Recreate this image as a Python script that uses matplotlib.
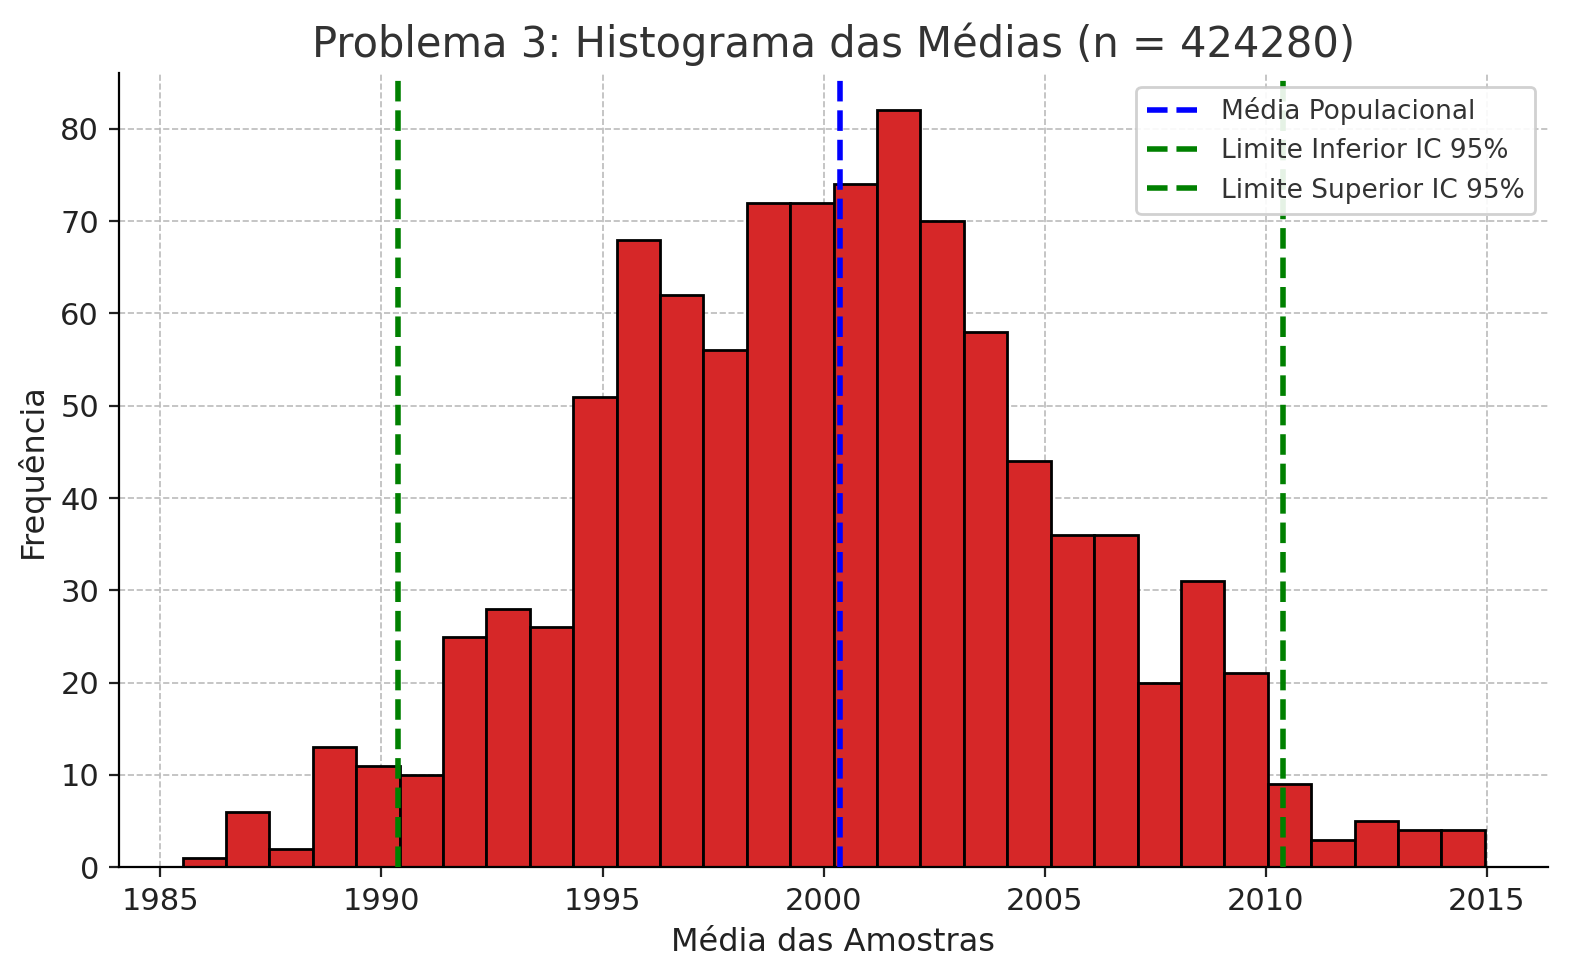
import matplotlib
matplotlib.use("Agg")
import matplotlib.pyplot as plt
import numpy as np

bin_start = 1985.5
bin_width = 0.982
counts = [1, 6, 2, 13, 11, 10, 25, 28, 26, 51, 68, 62, 56, 72, 72, 74, 82, 70, 58, 44,
          36, 36, 20, 31, 21, 9, 3, 5, 4, 4]
pop_mean = 2000.38
ci_low = 1990.38
ci_high = 2010.4
xticks = [1985, 1990, 1995, 2000, 2005, 2010, 2015]

fig, ax = plt.subplots(figsize=(7.9, 4.9), dpi=200)
edges = bin_start + bin_width * np.arange(len(counts))
ax.bar(edges, counts, width=bin_width, align="edge", color="#d62728",
       edgecolor="black", linewidth=1.0, zorder=2)
ax.axvline(pop_mean, color="blue", linestyle="--", linewidth=2, label="Média Populacional", zorder=3)
ax.axvline(ci_low, color="green", linestyle="--", linewidth=2, label="Limite Inferior IC 95%", zorder=3)
ax.axvline(ci_high, color="green", linestyle="--", linewidth=2, label="Limite Superior IC 95%", zorder=3)
ax.set_xlim(1984.05, 2016.4)
ax.set_ylim(0, 86)
ax.set_xticks(xticks)
ax.grid(True, linestyle="--", color="#bbbbbb", linewidth=0.6, zorder=0)
ax.set_axisbelow(True)
for s in ["top", "right"]:
    ax.spines[s].set_visible(False)
ax.tick_params(labelsize=11, colors="#222222")
ax.set_title("Problema 3: Histograma das Médias (n = 424280)", fontsize=15, color="#333333")
ax.set_xlabel("Média das Amostras", fontsize=11.5, color="#222222")
ax.set_ylabel("Frequência", fontsize=11.5, color="#222222")
leg = ax.legend(fontsize=9.5, loc="upper right", framealpha=0.9)
for t in leg.get_texts():
    t.set_color("#333333")
fig.subplots_adjust(left=0.075, right=0.98, top=0.925, bottom=0.115)
fig.savefig("out.png", dpi=200)
